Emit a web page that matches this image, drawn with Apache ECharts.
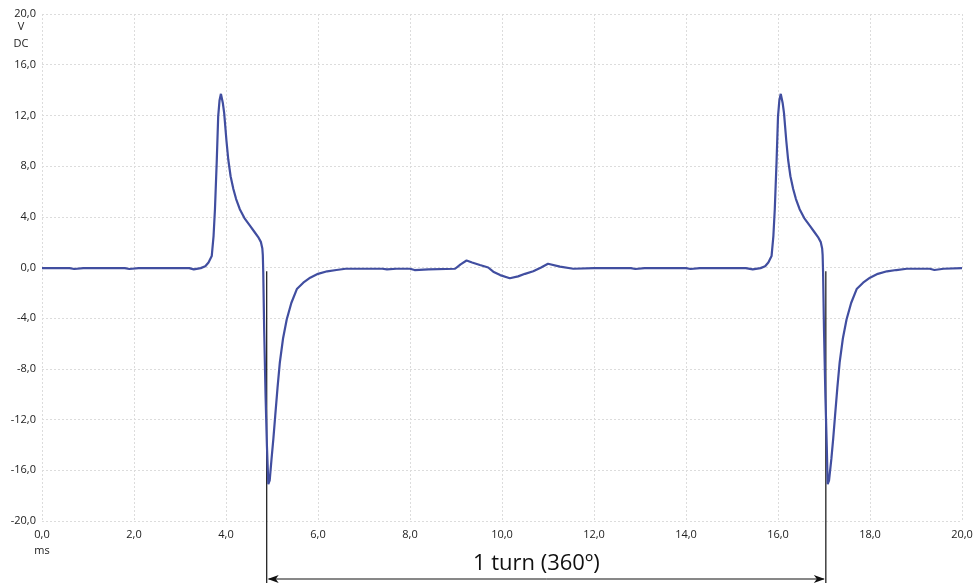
<!DOCTYPE html>
<html>
<head>
<meta charset="utf-8">
<script src="https://cdn.jsdelivr.net/npm/echarts@6/dist/echarts.min.js"></script>
<style>
    html, body { margin: 0; background: #fff; }
    #main { width: 978px; height: 588px; }
</style>
</head>
<body>
<div id="main"></div>
<script>
// time (ms) and voltage (V DC)
const times = [
    0, 0.6, 0.7, 0.9, 1.8, 1.9, 2.1, 3.2, 3.3, 3.45, 3.55, 3.62, 3.69, 3.73, 3.76, 3.80, 3.83, 3.86, 3.89, 3.93,
    3.96, 4.01, 4.05, 4.10, 4.16, 4.22, 4.30, 4.40, 4.52, 4.62, 4.70, 4.76, 4.79, 4.80, 4.81, 4.83, 4.86, 4.89, 4.92, 4.95,
    4.99, 5.03, 5.07, 5.12, 5.17, 5.24, 5.32, 5.42, 5.54, 5.68, 5.83, 6.0, 6.2, 6.4, 6.6, 7.4, 7.5, 7.7,
    8.0, 8.1, 8.4, 8.98, 9.1, 9.23, 9.35, 9.52, 9.7, 9.81, 9.96, 10.17, 10.35, 10.5, 10.68, 10.85, 11.0, 11.26, 11.55, 12.0,
    12.8, 12.9, 13.1, 14.0, 14.1, 14.3, 15.3, 15.45, 15.62, 15.72, 15.79, 15.86, 15.90, 15.93, 15.97, 16.0, 16.03, 16.06, 16.10,
    16.13, 16.18, 16.22, 16.27, 16.33, 16.39, 16.47, 16.57, 16.69, 16.79, 16.87, 16.93, 16.96, 16.97, 16.98, 17.0, 17.03, 17.06, 17.08, 17.11,
    17.16, 17.20, 17.24, 17.29, 17.34, 17.41, 17.49, 17.59, 17.71, 17.85, 18.0, 18.17, 18.37, 18.57, 18.8, 19.3, 19.4, 19.6, 20
];
const volts = [
    -0.05, -0.05, -0.12, -0.05, -0.05, -0.12, -0.05, -0.05, -0.15, -0.05, 0.1, 0.4, 0.9, 2.5, 4.6, 8.5, 11.9, 13.2, 13.7, 13.0,
    12.2, 10.0, 8.5, 7.2, 6.2, 5.4, 4.6, 3.9, 3.3, 2.8, 2.4, 2.0, 1.5, 1.0, -0.4, -4.9, -10.1, -14.1, -17.1, -16.8,
    -15.1, -13.5, -11.7, -9.5, -7.5, -5.6, -4.1, -2.8, -1.7, -1.2, -0.8, -0.5, -0.3, -0.2, -0.1, -0.1, -0.15, -0.1,
    -0.1, -0.2, -0.15, -0.1, 0.25, 0.55, 0.4, 0.2, 0.0, -0.33, -0.6, -0.85, -0.7, -0.5, -0.3, 0.0, 0.3, 0.07, -0.1, -0.05,
    -0.05, -0.12, -0.05, -0.05, -0.12, -0.05, -0.05, -0.15, -0.05, 0.1, 0.4, 0.9, 2.5, 4.6, 8.5, 11.9, 13.2, 13.7, 13.0,
    12.2, 10.0, 8.5, 7.2, 6.2, 5.4, 4.6, 3.9, 3.3, 2.8, 2.4, 2.0, 1.5, 1.0, -0.4, -4.9, -10.1, -14.1, -17.1, -16.8,
    -15.1, -13.5, -11.7, -9.5, -7.5, -5.6, -4.1, -2.8, -1.7, -1.2, -0.8, -0.5, -0.3, -0.2, -0.1, -0.1, -0.2, -0.1, -0.05
];
// one revolution markers (ms)
const turnTimes = [4.885, 17.04];
const turnLabel = '1 turn (360º)';

const fmt = function (v) {
    return v.toFixed(1).replace('.', ',');
};

const chart = echarts.init(document.getElementById('main'));
const gridLine = { show: true, lineStyle: { type: [2, 2], color: '#dcdcdc', width: 1 } };

chart.setOption({
    animation: false,
    grid: { left: 42, right: 16, top: 14, bottom: 67 },
    xAxis: {
        type: 'value',
        min: 0,
        max: 20,
        interval: 2,
        axisLine: { show: false },
        axisTick: { show: false },
        splitLine: gridLine,
        axisLabel: {
            color: '#222',
            fontSize: 11,
            fontFamily: 'Open Sans',
            margin: 6,
            lineHeight: 16,
            formatter: function (v) {
                return v === 0 ? fmt(v) + '\nms' : fmt(v);
            }
        }
    },
    yAxis: {
        type: 'value',
        min: -20,
        max: 20,
        interval: 4,
        axisLine: { show: false },
        axisTick: { show: false },
        splitLine: gridLine,
        axisLabel: {
            color: '#222',
            fontSize: 11,
            fontFamily: 'Open Sans',
            margin: 6,
            formatter: fmt
        }
    },
    series: [{
        type: 'line',
        data: times.map(function (t, i) { return [t, volts[i]]; }),
        showSymbol: false,
        lineStyle: { color: '#414ea0', width: 2.2 }
    }]
});

// annotation: turn markers and double arrow below the plot
const a = chart.convertToPixel({ gridIndex: 0 }, [turnTimes[0], -0.3]);
const b = chart.convertToPixel({ gridIndex: 0 }, [turnTimes[1], -0.3]);
const bottomY = 583;
const arrowY = 579;
const black = '#111';

chart.setOption({
    graphic: [
        { type: 'line', shape: { x1: a[0], y1: a[1], x2: a[0], y2: bottomY }, style: { stroke: black, lineWidth: 1.2 } },
        { type: 'line', shape: { x1: b[0], y1: b[1], x2: b[0], y2: bottomY }, style: { stroke: black, lineWidth: 1.2 } },
        { type: 'line', shape: { x1: a[0] + 2, y1: arrowY, x2: b[0] - 2, y2: arrowY }, style: { stroke: black, lineWidth: 1 } },
        { type: 'polygon', shape: { points: [[a[0] + 1, arrowY], [a[0] + 12, arrowY - 4], [a[0] + 9, arrowY], [a[0] + 12, arrowY + 4]] }, style: { fill: black } },
        { type: 'polygon', shape: { points: [[b[0] - 1, arrowY], [b[0] - 12, arrowY - 4], [b[0] - 9, arrowY], [b[0] - 12, arrowY + 4]] }, style: { fill: black } },
        {
            type: 'text', x: (a[0] + b[0]) / 2 - 10, y: 564,
            style: { text: turnLabel, fill: '#111', font: '22px "Open Sans"', align: 'center', verticalAlign: 'middle' }
        },
        {
            type: 'text', x: 21, y: 27,
            style: { text: 'V', fill: '#222', font: '11px "Open Sans"', align: 'center', verticalAlign: 'middle' }
        },
        {
            type: 'text', x: 21, y: 44,
            style: { text: 'DC', fill: '#222', font: '11px "Open Sans"', align: 'center', verticalAlign: 'middle' }
        }
    ]
});
</script>
</body>
</html>
